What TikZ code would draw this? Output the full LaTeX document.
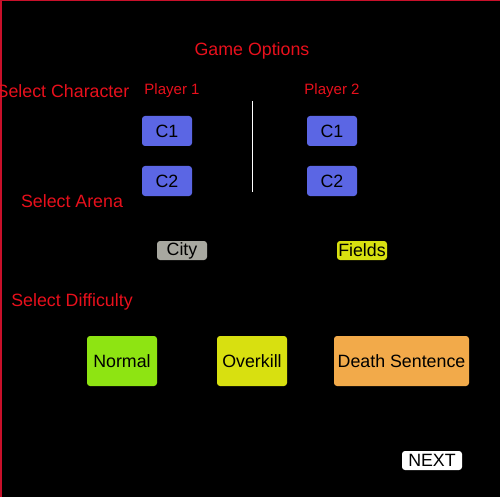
\documentclass[tikz,border=0pt]{standalone}
\usepackage{fontspec}
\setmainfont{Liberation Sans}
\usetikzlibrary{positioning}
\definecolor{optred}{HTML}{E8101C}
\definecolor{framered}{HTML}{C8102A}
\definecolor{charblue}{HTML}{5B66E4}
\definecolor{citygray}{HTML}{A8A8A0}
\definecolor{fieldyellow}{HTML}{D8E010}
\definecolor{normgreen}{HTML}{8EE412}
\definecolor{deathorange}{HTML}{F2AA4A}
\tikzset{
  heading/.style={text=optred,font=\fontsize{17.8}{20}\selectfont,inner sep=0pt},
  playerlabel/.style={text=optred,font=\fontsize{15}{17}\selectfont,inner sep=0pt},
  charbox/.style={fill=charblue,rounded corners=3pt,minimum width=50pt,minimum height=30pt,
    inner sep=0pt,font=\fontsize{17.8}{20}\selectfont},
  arenabox/.style={rounded corners=3pt,minimum width=50pt,minimum height=19pt,
    inner sep=0pt,font=\fontsize{17.8}{20}\selectfont},
  levelbox/.style={rounded corners=3pt,minimum height=50pt,
    inner sep=0pt,font=\fontsize{17.8}{20}\selectfont}
}
\begin{document}
\begin{tikzpicture}[x=1pt,y=-1pt]
    \useasboundingbox (0,0) rectangle (500,497);
    \fill[black] (0,0) rectangle (500,497);
    % frame
    \draw[framered,line width=1.5pt] (0.75,497) -- (0.75,0.75) -- (500,0.75);

    % Titles
    \node[heading] (title) at (252,51) {Game Options};
    \node[heading] (selchar) at (63,91) {Select Character};
    \node[heading] (selarena) at (72,201.5) {Select Arena};
    \node[heading] (seldiff) at (72,301.5) {Select Difficulty};

    % Players
    \node[playerlabel] (p1) at (172,90.5) {Player 1};
    \node[playerlabel] (p2) at (332,90.5) {Player 2};
    \node[charbox] (p1c1) at (167,131) {C1};
    \node[charbox] (p1c2) at (167,181) {C2};
    \node[charbox] (p2c1) at (332,131) {C1};
    \node[charbox] (p2c2) at (332,181) {C2};
    \draw[white,line width=1pt] (252,101) -- (252,192);

    % Arenas
    \node[arenabox,fill=citygray] (city) at (182,250.5) {City};
    \node[arenabox,fill=fieldyellow] (fields) at (362,250.5) {Fields};

    % Difficulty
    \node[levelbox,fill=normgreen,minimum width=70pt] (normal) at (122,361) {Normal};
    \node[levelbox,fill=fieldyellow,minimum width=70pt] (overkill) at (252,361) {Overkill};
    \node[levelbox,fill=deathorange,minimum width=135pt] (death) at (401.5,361) {Death Sentence};

    % Next
    \node[arenabox,fill=white,minimum width=60pt] (next) at (432,460.5) {NEXT};
\end{tikzpicture}
\end{document}
